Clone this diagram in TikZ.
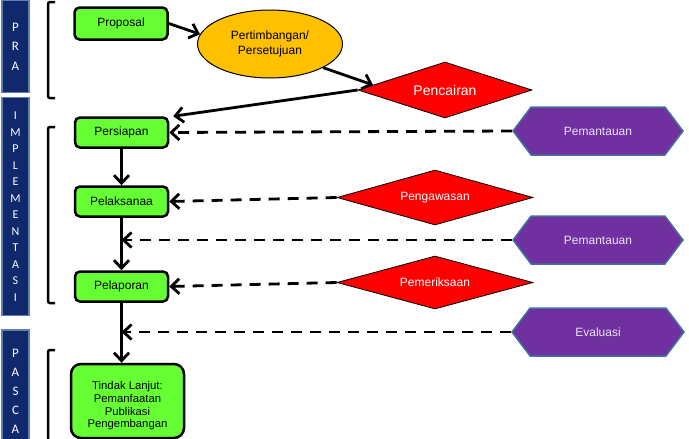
\documentclass[tikz,border=0pt]{standalone}
\usepackage{fontspec}
\setmainfont{Liberation Sans}
\newfontfamily\barfont{Carlito}
\usetikzlibrary{arrows.meta,shapes.geometric,shapes.symbols,calc}
\definecolor{lime}{RGB}{102,255,51}
\definecolor{gold}{RGB}{255,192,0}
\definecolor{navy}{RGB}{16,40,108}
\definecolor{navyedge}{RGB}{96,128,176}
\definecolor{purp}{RGB}{112,48,160}
\definecolor{purpedge}{RGB}{65,113,156}
\definecolor{lav}{RGB}{235,225,250}
\begin{document}
\begin{tikzpicture}[x=1pt,y=-1pt,
  every node/.style={font=\fontsize{12}{14}\selectfont},
  box/.style={draw=black, line width=2.5pt, fill=lime, rounded corners=5pt,
    minimum width=93pt, minimum height=30pt, inner sep=0pt},
  bar/.style={fill=navy, draw=navyedge, line width=1.5pt, minimum width=27pt,
    inner sep=0pt, text=white, align=center},
  dia/.style={diamond, aspect=3.4, fill=red, draw=black, line width=0.8pt, inner sep=0pt,
    text=white},
  hexa/.style={signal, signal to=west and east, signal pointer angle=106,
    fill=purp, draw=purpedge, line width=1.5pt, inner sep=0pt,
    minimum width=170pt, minimum height=48pt, text=lav},
  arr/.style={line width=2.8pt, -{Straight Barb[length=8pt,width=15pt]}},
  darr/.style={arr, dash pattern=on 11pt off 8pt},
  brk/.style={line width=2.5pt, rounded corners=2pt}
]
\useasboundingbox (0,0) rectangle (689,439);
\clip (0,0) rectangle (689,439);

% side bars
\node[bar, minimum height=92pt, font=\barfont\fontsize{13}{19.5}\selectfont] (bpra) at (15.5,46.5) {P\\R\\A};
\node[bar, minimum height=218pt, font=\barfont\fontsize{12}{16.5}\selectfont] (bimpl) at (15.5,206.5)
  {I\\M\\P\\L\\E\\M\\E\\N\\T\\A\\S\\I};
\node[bar, minimum height=122pt, font=\barfont\fontsize{13}{19}\selectfont] (bpasca) at (15.5,391)
  {P\\A\\S\\C\\A};

% brackets
\draw[brk] (55,2) -- (48,2) -- (48,98) -- (55,98);
\draw[brk] (55,127) -- (48,127) -- (48,303) -- (55,303);
\draw[brk] (55,350) -- (48,350) -- (48,450);

% main nodes
\node[box, minimum height=32pt] (proposal) at (121,23.5) {Proposal};
\node[ellipse, fill=gold, draw=black, line width=1pt, minimum width=145pt,
  minimum height=68pt, inner sep=0pt, align=center,
  font=\fontsize{12}{15}\selectfont] (pert) at (270,44) {Pertimbangan/\\Persetujuan};
\node[dia, minimum width=174pt, minimum height=56pt,
  font=\fontsize{14}{16}\selectfont] (pencairan) at (445,90) {Pencairan};

\node[box] (persiapan) at (121.5,132.5) {Persiapan};
\node[box] (pelak) at (121.5,201.5) {Pelaksanaa};
\node[box] (pelap) at (121.5,286.5) {Pelaporan};
\node[box, minimum width=113pt, minimum height=74pt, rounded corners=10pt, align=center,
  font=\fontsize{11.3}{12.6}\selectfont] (tindak) at (127.5,401)
  {\rule{0pt}{18pt}Tindak Lanjut:\\Pemanfaatan\\Publikasi\\Pengembangan};

\node[dia, minimum width=196pt, minimum height=55pt] (peng) at (435,197.5) {Pengawasan};
\node[dia, minimum width=196pt, minimum height=53pt] (pemer) at (435,282.5) {Pemeriksaan};

\node[hexa] (pem1) at (598,131) {Pemantauan};
\node[hexa] (pem2) at (598,240) {Pemantauan};
\node[hexa, minimum width=172pt] (eval) at (598,332) {Evaluasi};

% connectors
\draw[arr] (proposal.east) -- (pert.172);
\draw[arr] (pert.-24) -- (pencairan.176);
\draw[arr] (pencairan.west) -- ($(persiapan.north east)+(4,0)$);
\draw[darr] (pem1.west) -- (persiapan.east);
\draw[arr] (persiapan.south) -- (pelak.north);
\draw[darr] (peng.west) -- (pelak.east);
\draw[arr] (pelak.south) -- (pelap.north);
\coordinate (j1) at (pelak.south |- pem2.west);
\draw[darr] (pem2.west) -- (j1);
\draw[darr] (pemer.west) -- (pelap.east);
\draw[arr] (pelap.south) -- (pelap.south |- tindak.north);
\coordinate (j2) at (pelap.south |- eval.west);
\draw[darr] (eval.west) -- (j2);
\end{tikzpicture}
\end{document}
